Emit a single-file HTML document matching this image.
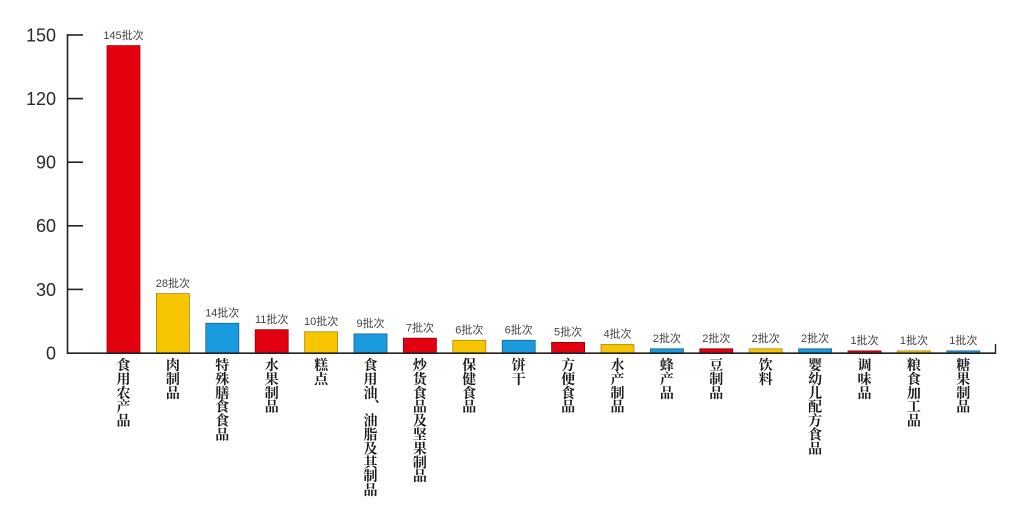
<!DOCTYPE html>
<html>
<head>
<meta charset="utf-8">
<style>
html,body{margin:0;padding:0;background:#fff;}
svg{display:block;}
.tick{font-family:"Liberation Sans",sans-serif;font-size:18px;fill:#2a2a2a;}
.val{font-family:"Liberation Sans","Noto Sans CJK SC",sans-serif;font-size:11px;fill:#444;}
.cat{font-family:"Liberation Serif","Noto Serif CJK SC",serif;font-size:14px;font-weight:bold;fill:#1a1a1a;}
</style>
</head>
<body>
<svg width="1024" height="521" viewBox="0 0 1024 521" xmlns="http://www.w3.org/2000/svg">
<rect width="1024" height="521" fill="#fff"/>
<!-- y axis -->
<line x1="67.5" y1="34" x2="67.5" y2="354" stroke="#222" stroke-width="1.6"/>
<g stroke="#222" stroke-width="1.6">
<line x1="67" y1="35" x2="83" y2="35"/>
<line x1="67" y1="98.6" x2="83" y2="98.6"/>
<line x1="67" y1="162.2" x2="83" y2="162.2"/>
<line x1="67" y1="225.8" x2="83" y2="225.8"/>
<line x1="67" y1="289.4" x2="83" y2="289.4"/>
</g>
<g class="tick" text-anchor="end">
<text x="56" y="41.5">150</text>
<text x="56" y="105">120</text>
<text x="56" y="168.5">90</text>
<text x="56" y="232">60</text>
<text x="56" y="296">30</text>
<text x="56" y="359.5">0</text>
</g>
<!-- bars -->
<g stroke-width="0.8">
<rect x="107" y="45.6" width="33" height="307.4" fill="#e3000f" stroke="#b0000c"/>
<rect x="156.4" y="293.6" width="33" height="59.4" fill="#f7c600" stroke="#a88a10"/>
<rect x="205.8" y="323.3" width="33" height="29.7" fill="#1a9be0" stroke="#1a5f8a"/>
<rect x="255.2" y="329.7" width="33" height="23.3" fill="#e3000f" stroke="#8a0009"/>
<rect x="304.6" y="331.8" width="33" height="21.2" fill="#f7c600" stroke="#a88a10"/>
<rect x="354" y="333.9" width="33" height="19.1" fill="#1a9be0" stroke="#1a5f8a"/>
<rect x="403.4" y="338.2" width="33" height="14.8" fill="#e3000f" stroke="#8a0009"/>
<rect x="452.8" y="340.3" width="33" height="12.7" fill="#f7c600" stroke="#a88a10"/>
<rect x="502.2" y="340.3" width="33" height="12.7" fill="#1a9be0" stroke="#1a5f8a"/>
<rect x="551.6" y="342.4" width="33" height="10.6" fill="#e3000f" stroke="#8a0009"/>
<rect x="601" y="344.5" width="33" height="8.5" fill="#f7c600" stroke="#a88a10"/>
<rect x="650.4" y="348.8" width="33" height="4.2" fill="#1a9be0" stroke="#1a5f8a"/>
<rect x="699.8" y="348.8" width="33" height="4.2" fill="#e3000f" stroke="#8a0009"/>
<rect x="749.2" y="348.8" width="33" height="4.2" fill="#f7c600" stroke="#a88a10"/>
<rect x="798.6" y="348.8" width="33" height="4.2" fill="#1a9be0" stroke="#1a5f8a"/>
<rect x="848" y="350.9" width="33" height="2.1" fill="#e3000f" stroke="#8a0009"/>
<rect x="897.4" y="350.9" width="33" height="2.1" fill="#f7c600" stroke="#a88a10"/>
<rect x="946.8" y="350.9" width="33" height="2.1" fill="#1a9be0" stroke="#1a5f8a"/>
</g>
<!-- x axis -->
<line x1="67" y1="353.2" x2="996" y2="353.2" stroke="#222" stroke-width="1.6"/>
<line x1="995.5" y1="344" x2="995.5" y2="354" stroke="#222" stroke-width="1.4"/>
<!-- value labels -->
<g class="val" text-anchor="middle">
<text x="123.5" y="39">145批次</text>
<text x="172.9" y="287">28批次</text>
<text x="222.3" y="316.5">14批次</text>
<text x="271.7" y="323">11批次</text>
<text x="321.1" y="325">10批次</text>
<text x="370.5" y="327">9批次</text>
<text x="419.9" y="331.5">7批次</text>
<text x="469.3" y="333.5">6批次</text>
<text x="518.7" y="333.5">6批次</text>
<text x="568.1" y="335.5">5批次</text>
<text x="617.5" y="337.5">4批次</text>
<text x="666.9" y="342">2批次</text>
<text x="716.3" y="342">2批次</text>
<text x="765.7" y="342">2批次</text>
<text x="815.1" y="342">2批次</text>
<text x="864.5" y="344">1批次</text>
<text x="913.9" y="344">1批次</text>
<text x="963.3" y="344">1批次</text>
</g>
<!-- category labels -->
<g class="cat" text-anchor="middle">
<text x="123.5" y="370"><tspan x="123.5">食</tspan><tspan x="123.5" dy="13.9">用</tspan><tspan x="123.5" dy="13.9">农</tspan><tspan x="123.5" dy="13.9">产</tspan><tspan x="123.5" dy="13.9">品</tspan></text>
<text x="172.9" y="370"><tspan x="172.9">肉</tspan><tspan x="172.9" dy="13.9">制</tspan><tspan x="172.9" dy="13.9">品</tspan></text>
<text x="222.3" y="370"><tspan x="222.3">特</tspan><tspan x="222.3" dy="13.9">殊</tspan><tspan x="222.3" dy="13.9">膳</tspan><tspan x="222.3" dy="13.9">食</tspan><tspan x="222.3" dy="13.9">食</tspan><tspan x="222.3" dy="13.9">品</tspan></text>
<text x="271.7" y="370"><tspan x="271.7">水</tspan><tspan x="271.7" dy="13.9">果</tspan><tspan x="271.7" dy="13.9">制</tspan><tspan x="271.7" dy="13.9">品</tspan></text>
<text x="321.1" y="370"><tspan x="321.1">糕</tspan><tspan x="321.1" dy="13.9">点</tspan></text>
<text x="370.5" y="370"><tspan x="370.5">食</tspan><tspan x="370.5" dy="13.9">用</tspan><tspan x="370.5" dy="13.9">油</tspan><tspan x="372.5" dy="13.9">︑</tspan><tspan x="370.5" dy="13.9">油</tspan><tspan x="370.5" dy="13.9">脂</tspan><tspan x="370.5" dy="13.9">及</tspan><tspan x="370.5" dy="13.9">其</tspan><tspan x="370.5" dy="13.9">制</tspan><tspan x="370.5" dy="13.9">品</tspan></text>
<text x="419.9" y="370"><tspan x="419.9">炒</tspan><tspan x="419.9" dy="13.9">货</tspan><tspan x="419.9" dy="13.9">食</tspan><tspan x="419.9" dy="13.9">品</tspan><tspan x="419.9" dy="13.9">及</tspan><tspan x="419.9" dy="13.9">坚</tspan><tspan x="419.9" dy="13.9">果</tspan><tspan x="419.9" dy="13.9">制</tspan><tspan x="419.9" dy="13.9">品</tspan></text>
<text x="469.3" y="370"><tspan x="469.3">保</tspan><tspan x="469.3" dy="13.9">健</tspan><tspan x="469.3" dy="13.9">食</tspan><tspan x="469.3" dy="13.9">品</tspan></text>
<text x="518.7" y="370"><tspan x="518.7">饼</tspan><tspan x="518.7" dy="13.9">干</tspan></text>
<text x="568.1" y="370"><tspan x="568.1">方</tspan><tspan x="568.1" dy="13.9">便</tspan><tspan x="568.1" dy="13.9">食</tspan><tspan x="568.1" dy="13.9">品</tspan></text>
<text x="617.5" y="370"><tspan x="617.5">水</tspan><tspan x="617.5" dy="13.9">产</tspan><tspan x="617.5" dy="13.9">制</tspan><tspan x="617.5" dy="13.9">品</tspan></text>
<text x="666.9" y="370"><tspan x="666.9">蜂</tspan><tspan x="666.9" dy="13.9">产</tspan><tspan x="666.9" dy="13.9">品</tspan></text>
<text x="716.3" y="370"><tspan x="716.3">豆</tspan><tspan x="716.3" dy="13.9">制</tspan><tspan x="716.3" dy="13.9">品</tspan></text>
<text x="765.7" y="370"><tspan x="765.7">饮</tspan><tspan x="765.7" dy="13.9">料</tspan></text>
<text x="815.1" y="370"><tspan x="815.1">婴</tspan><tspan x="815.1" dy="13.9">幼</tspan><tspan x="815.1" dy="13.9">儿</tspan><tspan x="815.1" dy="13.9">配</tspan><tspan x="815.1" dy="13.9">方</tspan><tspan x="815.1" dy="13.9">食</tspan><tspan x="815.1" dy="13.9">品</tspan></text>
<text x="864.5" y="370"><tspan x="864.5">调</tspan><tspan x="864.5" dy="13.9">味</tspan><tspan x="864.5" dy="13.9">品</tspan></text>
<text x="913.9" y="370"><tspan x="913.9">粮</tspan><tspan x="913.9" dy="13.9">食</tspan><tspan x="913.9" dy="13.9">加</tspan><tspan x="913.9" dy="13.9">工</tspan><tspan x="913.9" dy="13.9">品</tspan></text>
<text x="963.3" y="370"><tspan x="963.3">糖</tspan><tspan x="963.3" dy="13.9">果</tspan><tspan x="963.3" dy="13.9">制</tspan><tspan x="963.3" dy="13.9">品</tspan></text>
</g>
</svg>
</body>
</html>
